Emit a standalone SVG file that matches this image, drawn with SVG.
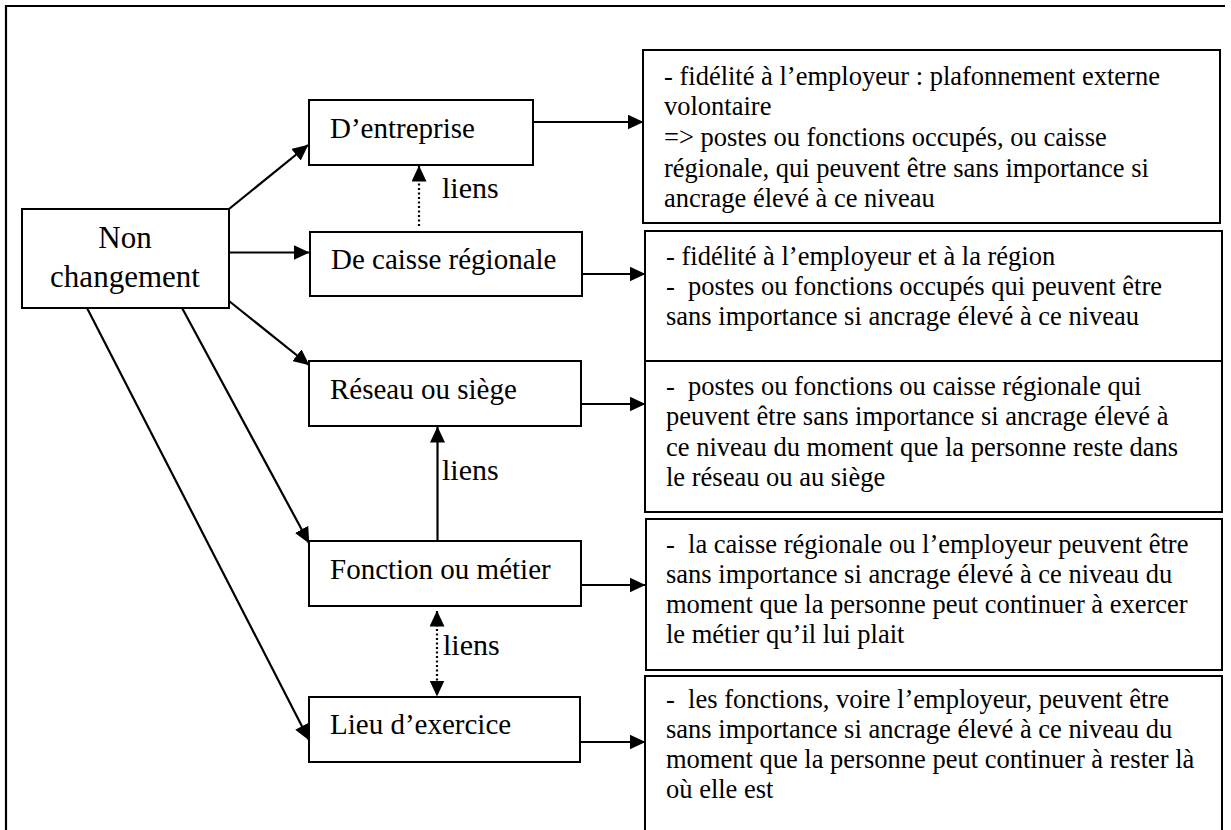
<svg xmlns="http://www.w3.org/2000/svg" width="1231" height="830" viewBox="0 0 1231 830">
<defs>
<style>
.box{fill:#fff;stroke:#000;stroke-width:2}
.lbl{font-family:"Liberation Serif","Times New Roman",serif;font-size:29px;fill:#000}
.big{font-family:"Liberation Serif","Times New Roman",serif;font-size:31px;fill:#000;text-anchor:middle}
.desc{font-family:"Liberation Serif","Times New Roman",serif;font-size:26.5px;fill:#000;white-space:pre}
.ln{stroke:#000;stroke-width:2.2;fill:none}
.dot{stroke:#000;stroke-width:2.2;fill:none;stroke-dasharray:2 2.5}
</style>
<marker id="ah" markerUnits="userSpaceOnUse" markerWidth="16" markerHeight="15" refX="15.5" refY="7.5" orient="auto-start-reverse" viewBox="0 0 16 15">
<path d="M0,0 L16,7.5 L0,15 z" fill="#000"/>
</marker>
</defs>
<rect width="1231" height="830" fill="#fff"/>
<g id="frame"><path class="ln" d="M6,830 V6 H1225"/></g>

<g id="connectors">
<line class="ln" x1="229" y1="209" x2="308" y2="145" marker-end="url(#ah)"/>
<line class="ln" x1="229" y1="252.5" x2="309" y2="252.5" marker-end="url(#ah)"/>
<line class="ln" x1="229" y1="301" x2="309" y2="365" marker-end="url(#ah)"/>
<line class="ln" x1="181" y1="306" x2="309" y2="543" marker-end="url(#ah)"/>
<line class="ln" x1="86" y1="306" x2="309" y2="740" marker-end="url(#ah)"/>
<line class="ln" x1="533" y1="122" x2="643" y2="122" marker-end="url(#ah)"/>
<line class="ln" x1="582" y1="274" x2="645" y2="274" marker-end="url(#ah)"/>
<line class="ln" x1="581" y1="404" x2="645" y2="404" marker-end="url(#ah)"/>
<line class="ln" x1="581" y1="585" x2="645" y2="585" marker-end="url(#ah)"/>
<line class="ln" x1="580" y1="742" x2="645" y2="742" marker-end="url(#ah)"/>
<line class="dot" x1="419" y1="226" x2="419" y2="166" marker-end="url(#ah)"/>
<line class="ln" x1="437.5" y1="546" x2="437.5" y2="427" marker-end="url(#ah)"/>
<line class="dot" x1="437" y1="611" x2="437" y2="696" marker-start="url(#ah)" marker-end="url(#ah)"/>
<text class="lbl" x="442" y="198" style="font-size:30px">liens</text>
<text class="lbl" x="442" y="480" style="font-size:30px">liens</text>
<text class="lbl" x="443" y="655" style="font-size:30px">liens</text>
</g>

<g id="non-changement">
<rect class="box" x="22" y="209" width="207" height="99"/>
<text class="big" x="125" y="248">Non</text>
<text class="big" x="125" y="287">changement</text>
</g>
<g id="entreprise">
<rect class="box" x="309" y="100" width="224" height="65"/>
<text class="lbl" x="330" y="138">D’entreprise</text>
</g>
<g id="caisse">
<rect class="box" x="310" y="232" width="272" height="64"/>
<text class="lbl" x="331" y="269">De caisse régionale</text>
</g>
<g id="reseau">
<rect class="box" x="309" y="361" width="272" height="65"/>
<text class="lbl" x="330" y="399">Réseau ou siège</text>
</g>
<g id="fonction">
<rect class="box" x="309" y="541" width="272" height="65"/>
<text class="lbl" x="330" y="579">Fonction ou métier</text>
</g>
<g id="lieu">
<rect class="box" x="309" y="697" width="271" height="65"/>
<text class="lbl" x="330" y="734">Lieu d’exercice</text>
</g>

<g id="desc-entreprise">
<rect class="box" x="643" y="50" width="577" height="173"/>
<text class="desc" x="664" y="85">- fidélité à l’employeur : plafonnement externe</text>
<text class="desc" x="664" y="115">volontaire</text>
<text class="desc" x="664" y="146">=&gt; postes ou fonctions occupés, ou caisse</text>
<text class="desc" x="664" y="177">régionale, qui peuvent être sans importance si</text>
<text class="desc" x="664" y="207">ancrage élevé à ce niveau</text>
</g>
<g id="desc-caisse">
<rect class="box" x="645" y="231" width="577" height="130"/>
<text class="desc" x="666" y="265">- fidélité à l’employeur et à la région</text>
<text class="desc" x="666" y="295">-  postes ou fonctions occupés qui peuvent être</text>
<text class="desc" x="666" y="325">sans importance si ancrage élevé à ce niveau</text>
</g>
<g id="desc-reseau">
<rect class="box" x="645" y="361" width="577" height="151"/>
<text class="desc" x="666" y="395">-  postes ou fonctions ou caisse régionale qui</text>
<text class="desc" x="666" y="425">peuvent être sans importance si ancrage élevé à</text>
<text class="desc" x="666" y="456">ce niveau du moment que la personne reste dans</text>
<text class="desc" x="666" y="486">le réseau ou au siège</text>
</g>
<g id="desc-fonction">
<rect class="box" x="646" y="519" width="576" height="151"/>
<text class="desc" x="666" y="553">-  la caisse régionale ou l’employeur peuvent être</text>
<text class="desc" x="666" y="583">sans importance si ancrage élevé à ce niveau du</text>
<text class="desc" x="666" y="613">moment que la personne peut continuer à exercer</text>
<text class="desc" x="666" y="643">le métier qu’il lui plait</text>
</g>
<g id="desc-lieu">
<rect class="box" x="645" y="676" width="577" height="164"/>
<text class="desc" x="666" y="708">-  les fonctions, voire l’employeur, peuvent être</text>
<text class="desc" x="666" y="738">sans importance si ancrage élevé à ce niveau du</text>
<text class="desc" x="666" y="768">moment que la personne peut continuer à rester là</text>
<text class="desc" x="666" y="798">où elle est</text>
</g>
</svg>
